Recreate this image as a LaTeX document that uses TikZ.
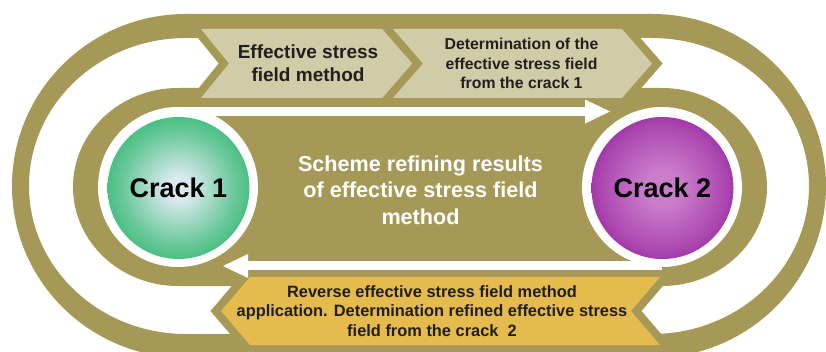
\documentclass[tikz,border=0pt]{standalone}
\usepackage{fontspec}
\setmainfont{Liberation Sans}
\usetikzlibrary{arrows.meta}

\definecolor{olivec}{RGB}{166,153,88}
\definecolor{tanc}{RGB}{209,204,168}
\definecolor{goldc}{RGB}{229,187,77}
\definecolor{textc}{RGB}{33,31,30}
\definecolor{greencore}{RGB}{218,234,240}
\definecolor{greenmid}{RGB}{104,200,152}
\definecolor{greenrim}{RGB}{20,176,94}
\definecolor{purplecore}{RGB}{203,125,203}
\definecolor{purplemid}{RGB}{172,72,176}
\definecolor{purplerim}{RGB}{136,12,146}

\pgfdeclareradialshading{greenball}{\pgfpoint{0bp}{0bp}}{color(0bp)=(greencore); color(4bp)=(greencore); color(20bp)=(greenmid); color(34bp)=(greenrim); color(50bp)=(greenrim)}
\pgfdeclareradialshading{purpleball}{\pgfpoint{0bp}{0bp}}{color(0bp)=(purplecore); color(6bp)=(purplecore); color(22bp)=(purplemid); color(34bp)=(purplerim); color(50bp)=(purplerim)}

\begin{document}
\begin{tikzpicture}[x=1pt,y=-1pt,
  crack/.style={circle, minimum size=142pt, inner sep=0pt, shade, font=\fontsize{27}{32}\selectfont\bfseries},
  band/.style={fill=#1, preaction={draw=olivec, line width=16pt, line join=miter}},
  flow/.style={white, line width=9pt, -{Triangle[width=24pt,length=25pt,line width=0pt]}},
  steptext/.style={align=center, inner sep=0pt, text=textc}]

  \useasboundingbox (0,0) rectangle (826,352);
  \clip (0,0) rectangle (826,352);

  \def\lcx{178} \def\rcx{662} \def\cy{187}

  % Outer loop
  \fill[olivec, even odd rule]
    (186,14) -- (652,14) arc[start angle=-90, end angle=90, x radius=174, y radius=172]
    -- (186,358) arc[start angle=90, end angle=270, x radius=174, y radius=172] -- cycle
    (186,38) -- (652,38) arc[start angle=-90, end angle=90, x radius=157, y radius=148]
    -- (186,334) arc[start angle=90, end angle=270, x radius=157, y radius=148] -- cycle;

  % Inner loop
  \fill[olivec] (\lcx,88) -- (\rcx,88) arc[start angle=-90, end angle=90, x radius=105, y radius=99]
    -- (\lcx,286) arc[start angle=90, end angle=270, x radius=105, y radius=99] -- cycle;

  % Steps on top and the way back
  \path[band=tanc] (201,29) -- (383,29) -- (413,63.5) -- (383,98) -- (201,98) -- (229,63.5) -- cycle;
  \path[band=tanc] (393,29) -- (622,29) -- (652,63.5) -- (622,98) -- (393,98) -- (423,63.5) -- cycle;
  \path[band=goldc] (250,277) -- (660,277) -- (631,311) -- (660,345) -- (250,345) -- (221,311) -- cycle;

  % Flow arrows
  \coordinate (fwdfrom) at (\lcx,111.5);
  \coordinate (fwdto) at (610,111.5);
  \coordinate (backfrom) at (\rcx,266);
  \coordinate (backto) at (223,266);
  \draw[flow] (fwdfrom) -- (fwdto);
  \draw[flow] (backfrom) -- (backto);

  % Cracks
  \fill[white] (\lcx,\cy) circle (80) (\rcx,\cy) circle (80);
  \node[crack, shading=greenball] (crack1) at (178.5,188) {Crack 1};
  \node[crack, shading=purpleball] (crack2) at (662.5,188) {Crack 2};

  % Labels
  \node[steptext, font=\fontsize{19}{23}\selectfont\bfseries] (stepone) at (308,63.5)
    {Effective stress\\field method};
  \node[steptext, font=\fontsize{15.8}{19.5}\selectfont\bfseries] (steptwo) at (521.5,63.5)
    {Determination of the\\effective stress field\\from the crack 1};
  \node[align=center, inner sep=0pt, text=white, font=\fontsize{21.6}{26.5}\selectfont\bfseries] (scheme) at (420.5,190)
    {Scheme refining results\\of effective stress field\\method};
  \node[steptext, font=\fontsize{16.4}{19.5}\selectfont\bfseries] (reverse) at (432,311)
    {Reverse effective stress field method\\application. Determination refined effective stress\\field from the crack\ \ 2};

\end{tikzpicture}
\end{document}
